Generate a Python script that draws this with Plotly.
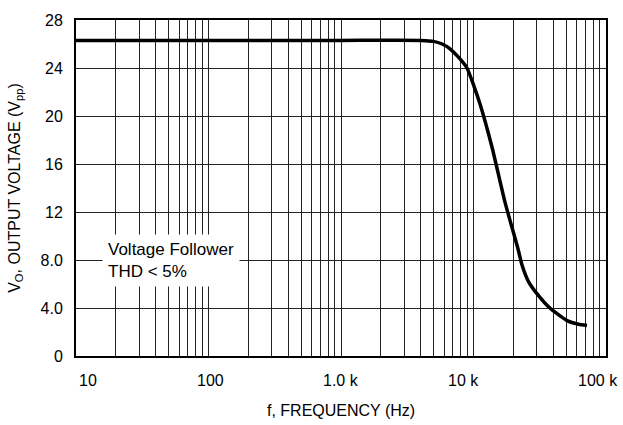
import numpy as np
import plotly.graph_objects as go

# Data
freq_hz = [10, 100, 1000, 4000, 5000, 5800, 6650, 7700, 8930, 10000, 11200, 13800, 17300, 21700, 23200, 26000, 30100, 37700, 50800, 62000, 71900]
vout_vpp = [26.3, 26.3, 26.3, 26.3, 26.22, 26.0, 25.6, 24.9, 24.0, 22.6, 21.0, 17.4, 12.8, 8.9, 7.6, 6.2, 5.2, 4.0, 2.95, 2.65, 2.55]

y_tickvals = [0, 4, 8, 12, 16, 20, 24, 28]
y_ticktext = ["0", "4.0", "8.0", "12", "16", "20", "24", "28"]

x_label_vals = [10, 100, 1000, 10000, 100000]
x_label_text = ["10", "100", "1.0 k", "10 k", "100 k"]
x_label_shift = [12, 2, 0, -10, -8]

grid_vals = [m * 10 ** e for e in range(1, 5) for m in range(1, 10)] + [100000]

font_family = "Liberation Sans, Arial, sans-serif"
fig = go.Figure()
fig.add_trace(go.Scatter(x=freq_hz, y=vout_vpp, mode="lines",
                         line=dict(color="black", width=3.5, shape="spline", smoothing=0.5),
                         hoverinfo="skip", showlegend=False))

fig.update_xaxes(type="log", range=[1, 5], tickvals=grid_vals, showticklabels=False,
                 showgrid=True, gridcolor="#222222", gridwidth=1.3, ticks="",
                 showline=True, linecolor="black", linewidth=2, mirror=True, zeroline=False)
fig.update_yaxes(range=[0, 28], tickvals=y_tickvals, ticktext=y_ticktext,
                 showgrid=True, gridcolor="#222222", gridwidth=1.3, ticks="",
                 showline=True, linecolor="black", linewidth=2, mirror=True, zeroline=False,
                 ticklabelstandoff=8,
                 tickfont=dict(size=16, color="black", family=font_family),
                 title=dict(text="V<sub>O</sub>, OUTPUT VOLTAGE (V<sub>pp</sub>)",
                            font=dict(size=16, color="black", family=font_family), standoff=16))

for v, t, s in zip(x_label_vals, x_label_text, x_label_shift):
    fig.add_annotation(x=np.log10(v), y=0, xref="x", yref="paper", text=t, showarrow=False,
                       xshift=s, yshift=-24, yanchor="middle",
                       font=dict(size=16, color="black", family=font_family))

fig.add_annotation(x=0.5, y=0, xref="paper", yref="paper", text="f, FREQUENCY (Hz)",
                   showarrow=False, yanchor="middle", yshift=-54,
                   font=dict(size=16, color="black", family=font_family))

fig.add_annotation(x=np.log10(10), y=8.0, xref="x", yref="y",
                   text="Voltage Follower<br>THD < 5%", showarrow=False, align="left",
                   xanchor="left", yanchor="middle", xshift=26, bgcolor="white",
                   borderpad=5, font=dict(size=17, color="black", family=font_family))

fig.update_layout(width=623, height=425, margin=dict(l=76, r=17, t=14, b=69),
                  plot_bgcolor="white", paper_bgcolor="white",
                  font=dict(family=font_family, color="black"))
fig.write_html("out.html")
